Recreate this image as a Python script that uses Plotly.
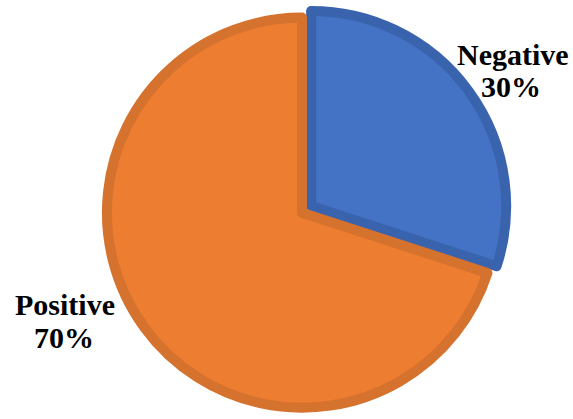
import plotly.graph_objects as go

labels = ["Negative", "Positive"]
values = [30, 70]
fill_colors = ["#4472C4", "#ED7D31"]
border_colors = ["#3A63AE", "#D5722E"]
pulls = [0.058, 0.0]

W, H = 573, 419

fig = go.Figure(
    go.Pie(
        labels=labels,
        values=values,
        sort=False,
        direction="clockwise",
        rotation=0,
        pull=pulls,
        textinfo="none",
        hoverinfo="label+percent",
        marker=dict(colors=fill_colors, line=dict(color=border_colors, width=10)),
        domain=dict(x=[0.054, 1.0], y=[0.0, 0.985]),
        showlegend=False,
    )
)

# label positions (paper coords) for each category: name line and percent line
label_pos = {
    "Negative": [(513 / W, 1 - 54 / H), (511 / W, 1 - 87 / H)],
    "Positive": [(65 / W, 1 - 304 / H), (64 / W, 1 - 337 / H)],
}
total = sum(values)
for lab, val in zip(labels, values):
    (x1, y1), (x2, y2) = label_pos[lab]
    for txt, x, y in [(lab, x1, y1), (f"{round(100 * val / total)}%", x2, y2)]:
        fig.add_annotation(
            x=x, y=y, xref="paper", yref="paper",
            xanchor="center", yanchor="middle",
            text=f"<b>{txt}</b>", showarrow=False,
            font=dict(family="Liberation Serif", size=30, color="black"),
        )

fig.update_layout(
    width=W, height=H,
    margin=dict(l=0, r=0, t=0, b=0),
    paper_bgcolor="white", plot_bgcolor="white",
)

fig.write_html("out.html")
